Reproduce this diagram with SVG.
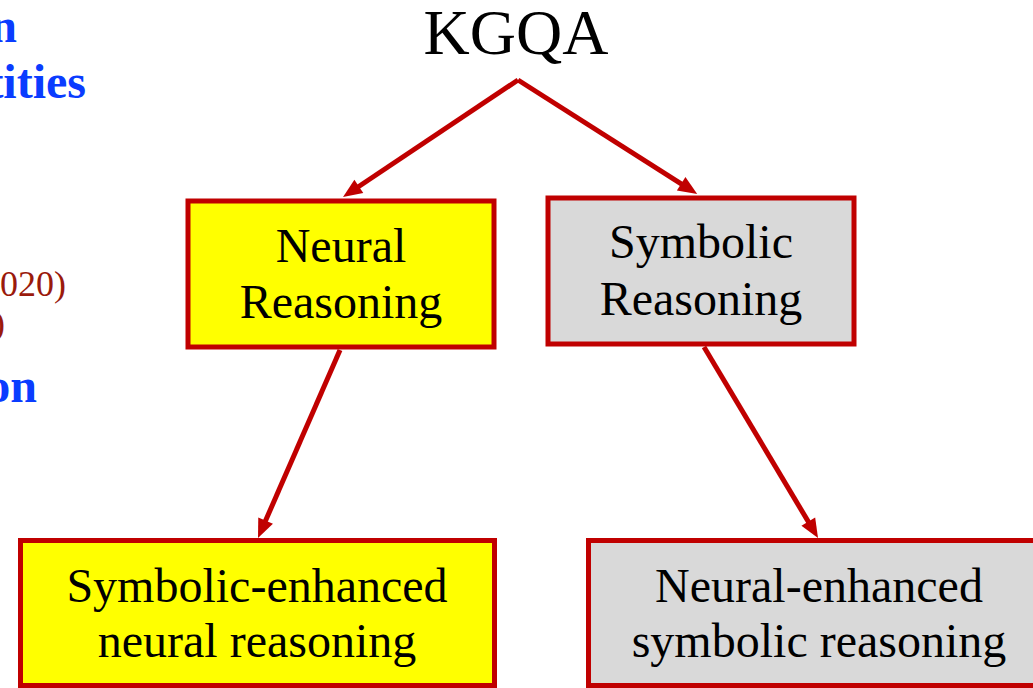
<svg xmlns="http://www.w3.org/2000/svg" width="1033" height="688" viewBox="0 0 1033 688">
<style>
.box{stroke:#C00000;stroke-width:5}
.yel{fill:#FFFF00}
.gry{fill:#D9D9D9}
.lbl{font-family:"Liberation Serif","Times New Roman",serif;font-size:48px;fill:#000;text-anchor:middle}
.blue{font-family:"Liberation Serif","Times New Roman",serif;font-weight:bold;font-size:48px;fill:#0A3CFF;text-anchor:end}
.red{font-family:"Liberation Serif","Times New Roman",serif;font-size:36px;fill:#9A1A0C;text-anchor:end}
.conn{stroke:#C00000;stroke-width:5;fill:none;marker-end:url(#ah)}
</style>
<defs>
<marker id="ah" markerUnits="userSpaceOnUse" markerWidth="24" markerHeight="20" refX="1" refY="0" viewBox="0 -10 24 20" orient="auto" overflow="visible">
<path d="M0,-8 L19,0 L0,8 z" fill="#C00000"/>
</marker>
</defs>
<rect width="1033" height="688" fill="#fff"/>
<g id="side-text">
<text class="blue" x="17" y="42">n</text>
<text class="blue" x="86" y="98">tities</text>
<text class="red" x="66" y="296">020)</text>
<text class="red" x="5" y="335">)</text>
<text class="blue" x="37" y="402">on</text>
</g>
<g id="kgqa">
<text x="516" y="54" style="font-family:'Liberation Serif','Times New Roman',serif;font-size:64px;fill:#000;text-anchor:middle">KGQA</text>
</g>
<g id="connectors">
<line class="conn" x1="518" y1="80" x2="358" y2="187"/>
<line class="conn" x1="518" y1="80" x2="682" y2="184.3"/>
<line class="conn" x1="340" y1="350" x2="265.2" y2="521.5"/>
<line class="conn" x1="704" y1="347" x2="808.8" y2="522.5"/>
</g>
<g id="neural-reasoning">
<rect class="box yel" x="188" y="201" width="306" height="146"/>
<text class="lbl" x="341" y="262">Neural</text>
<text class="lbl" x="341" y="318">Reasoning</text>
</g>
<g id="symbolic-reasoning">
<rect class="box gry" x="548" y="198" width="306" height="146"/>
<text class="lbl" x="701" y="258">Symbolic</text>
<text class="lbl" x="701" y="315">Reasoning</text>
</g>
<g id="symbolic-enhanced">
<rect class="box yel" x="20.5" y="540.5" width="474" height="145"/>
<text class="lbl" x="257" y="602">Symbolic-enhanced</text>
<text class="lbl" x="257" y="657">neural reasoning</text>
</g>
<g id="neural-enhanced">
<rect class="box gry" x="588.5" y="540.5" width="470" height="145"/>
<text class="lbl" x="819" y="602">Neural-enhanced</text>
<text class="lbl" x="819" y="657">symbolic reasoning</text>
</g>
</svg>
